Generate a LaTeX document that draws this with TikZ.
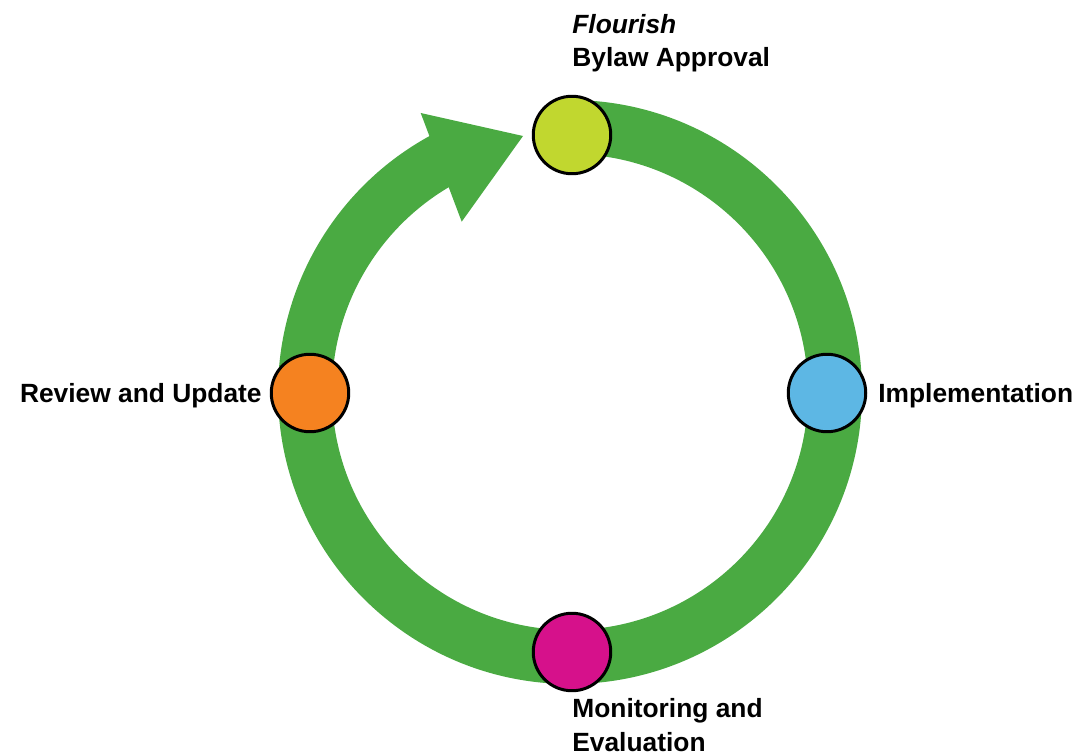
\documentclass[tikz,border=0pt]{standalone}
\usepackage{fontspec}
\setmainfont{Liberation Sans}
\usepackage{tikz}
\usetikzlibrary{positioning}

\definecolor{ringgreen}{HTML}{4AAA42}
\definecolor{limegreen}{HTML}{C1D72F}
\definecolor{skyblue}{HTML}{5DB7E4}
\definecolor{deepmagenta}{HTML}{D6118B}
\definecolor{brightorange}{HTML}{F58220}

\begin{document}
\begin{tikzpicture}[x=0.02cm,y=0.02cm,
		stage/.style={circle,draw=black,line width=1.7pt,minimum size=1.55cm,inner sep=0pt},
		caption/.style={font=\fontsize{15}{19}\selectfont\bfseries,inner sep=0pt,align=left}]

		\useasboundingbox (0,0) rectangle (1091,755);

		%ring
		\coordinate (c) at (570,363);
		\draw[ringgreen,line width=1.08cm] (c) ++(90:265) arc[start angle=90,end angle=-241.5,radius=265];

		%arrow head
		\coordinate (h1) at (420.7,642);
		\coordinate (h2) at (461.7,533.3);
		\coordinate (tip) at (523,619);
		\fill[ringgreen] (h1) -- (tip) -- (h2) -- cycle;

		%stages
		\node[stage,fill=limegreen] (approval) at (572,620) {};
		\node[stage,fill=skyblue] (implement) at (827,362) {};
		\node[stage,fill=deepmagenta] (monitor) at (572,103) {};
		\node[stage,fill=brightorange] (review) at (310,362) {};

		%labels (base = last line)
		\node[caption,anchor=base west] (approvaltext) at (572,688) {{\itshape Flourish}\\Bylaw Approval};
		\node[caption,anchor=base west] (implementtext) at (878,353) {Implementation};
		\node[caption,anchor=base west] (monitortext) at (572,4) {Monitoring and\\Evaluation};
		\node[caption,anchor=base east] (reviewtext) at (262,353) {Review and Update};

\end{tikzpicture}
\end{document}
